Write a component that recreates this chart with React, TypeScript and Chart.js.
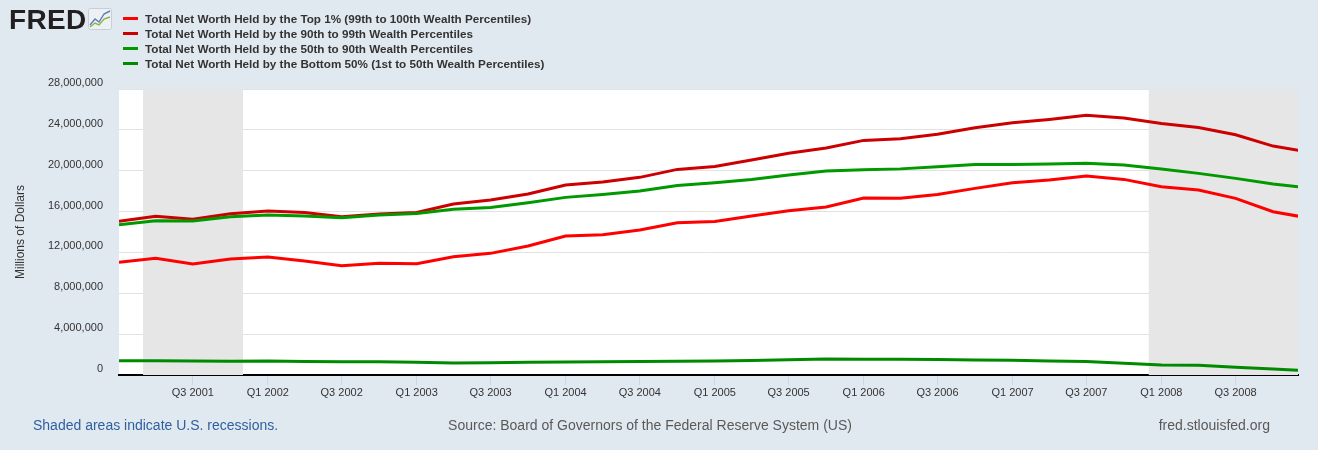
import React, { useEffect, useRef } from "react";
import { Chart, registerables } from "chart.js";

Chart.register(...registerables);

// ---- DATA ----
const quarterDates = [
  "2001-01-01", "2001-04-01", "2001-07-01", "2001-10-01",
  "2002-01-01", "2002-04-01", "2002-07-01", "2002-10-01",
  "2003-01-01", "2003-04-01", "2003-07-01", "2003-10-01",
  "2004-01-01", "2004-04-01", "2004-07-01", "2004-10-01",
  "2005-01-01", "2005-04-01", "2005-07-01", "2005-10-01",
  "2006-01-01", "2006-04-01", "2006-07-01", "2006-10-01",
  "2007-01-01", "2007-04-01", "2007-07-01", "2007-10-01",
  "2008-01-01", "2008-04-01", "2008-07-01", "2008-10-01",
  "2009-01-01",
];

// Millions of dollars
const top1Pct = [
  11030000, 11420000, 10860000, 11350000,
  11550000, 11150000, 10700000, 10930000,
  10900000, 11580000, 11910000, 12630000,
  13600000, 13740000, 14190000, 14910000,
  15020000, 15560000, 16080000, 16440000,
  17320000, 17310000, 17680000, 18270000,
  18830000, 19090000, 19480000, 19150000,
  18430000, 18110000, 17290000, 15990000,
  15330000,
];

const pct90to99 = [
  15040000, 15530000, 15240000, 15790000,
  16050000, 15900000, 15500000, 15760000,
  15920000, 16740000, 17130000, 17720000,
  18600000, 18890000, 19350000, 20130000,
  20420000, 21040000, 21700000, 22220000,
  22970000, 23120000, 23560000, 24210000,
  24700000, 25020000, 25420000, 25150000,
  24630000, 24240000, 23520000, 22410000,
  21810000,
];

const pct50to90 = [
  14710000, 15110000, 15070000, 15500000,
  15660000, 15560000, 15400000, 15660000,
  15820000, 16220000, 16410000, 16870000,
  17390000, 17680000, 18010000, 18560000,
  18830000, 19150000, 19580000, 19970000,
  20100000, 20180000, 20390000, 20620000,
  20620000, 20650000, 20720000, 20550000,
  20160000, 19740000, 19250000, 18690000,
  18290000,
];

const bottom50Pct = [
  1400000, 1400000, 1370000, 1350000,
  1370000, 1310000, 1300000, 1300000,
  1250000, 1180000, 1200000, 1240000,
  1270000, 1300000, 1310000, 1340000,
  1370000, 1420000, 1500000, 1570000,
  1550000, 1530000, 1510000, 1470000,
  1440000, 1370000, 1320000, 1140000,
  980000, 950000, 750000, 590000,
  400000,
];

const seriesNames = [
  "Total Net Worth Held by the Top 1% (99th to 100th Wealth Percentiles)",
  "Total Net Worth Held by the 90th to 99th Wealth Percentiles",
  "Total Net Worth Held by the 50th to 90th Wealth Percentiles",
  "Total Net Worth Held by the Bottom 50% (1st to 50th Wealth Percentiles)",
];
const seriesColors = ["#ff0000", "#cc0000", "#009900", "#008a00"];

const recessionStarts = ["2001-03-01", "2007-12-01"];
const recessionEnds = ["2001-11-01", "2009-06-01"];

const xTickDates = [
  "2001-07-01", "2002-01-01", "2002-07-01", "2003-01-01", "2003-07-01",
  "2004-01-01", "2004-07-01", "2005-01-01", "2005-07-01", "2006-01-01",
  "2006-07-01", "2007-01-01", "2007-07-01", "2008-01-01", "2008-07-01",
];
const xTickLabels = [
  "Q3 2001", "Q1 2002", "Q3 2002", "Q1 2003", "Q3 2003",
  "Q1 2004", "Q3 2004", "Q1 2005", "Q3 2005", "Q1 2006",
  "Q3 2006", "Q1 2007", "Q3 2007", "Q1 2008", "Q3 2008",
];

const xMinDate = "2001-01-01";
const xMaxDate = "2008-12-01";
const yMax = 28000000;
const yStep = 4000000;

const FONT = "'Liberation Sans', Arial, Helvetica, sans-serif";

const fredPlugin = {
  id: "fredBackground",
  beforeDraw(chart: any) {
    const { ctx, chartArea } = chart;
    ctx.save();
    ctx.fillStyle = "#ffffff";
    ctx.fillRect(chartArea.left, chartArea.top, chartArea.right - chartArea.left, chartArea.bottom - chartArea.top);
    ctx.restore();
  },
  beforeDatasetsDraw(chart: any) {
    const { ctx, chartArea } = chart;
    const xs = chart.scales.x;
    ctx.save();
    ctx.fillStyle = "#e6e6e6";
    for (let i = 0; i < recessionStarts.length; i++) {
      const a = Math.max(chartArea.left, xs.getPixelForValue(Date.parse(recessionStarts[i])));
      const b = Math.min(chartArea.right, xs.getPixelForValue(Date.parse(recessionEnds[i])));
      if (b > a) ctx.fillRect(a, chartArea.top, b - a, chartArea.bottom - chartArea.top);
    }
    ctx.restore();
  },
};

function FredChart() {
  const ref = useRef<HTMLCanvasElement | null>(null);
  useEffect(() => {
    if (!ref.current) return;
    const series = [top1Pct, pct90to99, pct50to90, bottom50Pct];
    const chart = new Chart(ref.current, {
      type: "line",
      data: {
        datasets: series.map((vals, si) => ({
          label: seriesNames[si],
          data: vals.map((v, i) => ({ x: Date.parse(quarterDates[i]), y: v })),
          borderColor: seriesColors[si],
          backgroundColor: seriesColors[si],
          borderWidth: 3,
          pointRadius: 0,
          tension: 0,
          fill: false,
          order: series.length - si,
        })),
      },
      options: {
        animation: false,
        responsive: false,
        events: [],
        layout: { padding: { top: 89, right: 20, left: 0, bottom: 0 } },
        plugins: { legend: { display: false }, tooltip: { enabled: false } },
        scales: {
          x: {
            type: "linear",
            min: Date.parse(xMinDate),
            max: Date.parse(xMaxDate),
            z: 1,
            grid: { display: true, drawOnChartArea: false, drawTicks: true, tickLength: 10, color: "#ccd6eb", lineWidth: 1 },
            border: { display: true, color: "#000000", width: 2 },
            ticks: {
              autoSkip: false,
              maxRotation: 0,
              padding: 1,
              color: "#333333",
              font: { family: FONT, size: 11 },
              callback: (_v: any, i: number) => xTickLabels[i],
            },
            afterBuildTicks: (s: any) => {
              s.ticks = xTickDates.map((d) => ({ value: Date.parse(d) }));
            },
            afterFit: (s: any) => {
              s.height = 75;
            },
          },
          y: {
            min: 0,
            max: yMax,
            grid: { color: "#e2e2e2", lineWidth: 1, drawTicks: false },
            border: { display: false },
            ticks: {
              stepSize: yStep,
              padding: 16,
              labelOffset: -6,
              color: "#333333",
              font: { family: FONT, size: 11 },
              callback: (v: any) => Number(v).toLocaleString("en-US"),
            },
            title: {
              display: true,
              text: "Millions of Dollars",
              color: "#333333",
              font: { family: FONT, size: 12 },
              padding: { top: 13, bottom: 0 },
            },
            afterFit: (s: any) => {
              s.width = 119;
            },
          },
        },
      } as any,
      plugins: [fredPlugin],
    });
    return () => chart.destroy();
  }, []);
  return <canvas ref={ref} width={1318} height={450} style={{ position: "absolute", left: 0, top: 0, width: 1318, height: 450 }} />;
}

function Logo() {
  return (
    <div style={{ position: "absolute", left: 9, top: 6, height: 28, display: "flex", alignItems: "center" }}>
      <span style={{ fontFamily: FONT, fontWeight: 700, fontSize: 28, color: "#231f20", letterSpacing: 0.3, lineHeight: "28px" }}>FRED</span>
      <svg width="24" height="22" viewBox="0 0 24 22" style={{ marginLeft: 2, marginTop: -2 }}>
        <rect x="0.5" y="0.5" width="23" height="21" rx="2" fill="#eef1f4" stroke="#c8ced6" />
        <polyline points="2,17 7,11 11,14 16,6 22,3" fill="none" stroke="#5b7fb5" strokeWidth="1.4" />
        <polyline points="2,19 7,15 11,17 16,11 22,9" fill="none" stroke="#8ab34a" strokeWidth="1.4" />
      </svg>
    </div>
  );
}

function Legend() {
  return (
    <div style={{ position: "absolute", left: 123, top: 11 }}>
      {seriesNames.map((n, i) => (
        <div key={n} style={{ position: "relative", height: 15, display: "flex", alignItems: "center" }}>
          <span style={{ display: "inline-block", width: 15, height: 3, background: seriesColors[i], marginRight: 7 }} />
          <span style={{ fontFamily: FONT, fontWeight: 700, fontSize: 11.7, color: "#333333", whiteSpace: "nowrap" }}>{n}</span>
        </div>
      ))}
    </div>
  );
}

function Footer() {
  const base: React.CSSProperties = { position: "absolute", top: 416, fontFamily: FONT, fontSize: 14, whiteSpace: "nowrap", lineHeight: "18px" };
  return (
    <>
      <div style={{ ...base, left: 33, color: "#2f5f9e" }}>Shaded areas indicate U.S. recessions.</div>
      <div style={{ ...base, left: 350, width: 600, textAlign: "center", color: "#595959" }}>
        Source: Board of Governors of the Federal Reserve System (US)
      </div>
      <div style={{ ...base, right: 48, color: "#595959" }}>fred.stlouisfed.org</div>
    </>
  );
}

export default function App() {
  return (
    <div style={{ position: "relative", width: 1318, height: 450, background: "#e1e9f0", overflow: "hidden" }}>
      <style>{`html,body{margin:0;padding:0;background:#e1e9f0;}`}</style>
      <FredChart />
      <Logo />
      <Legend />
      <Footer />
    </div>
  );
}
